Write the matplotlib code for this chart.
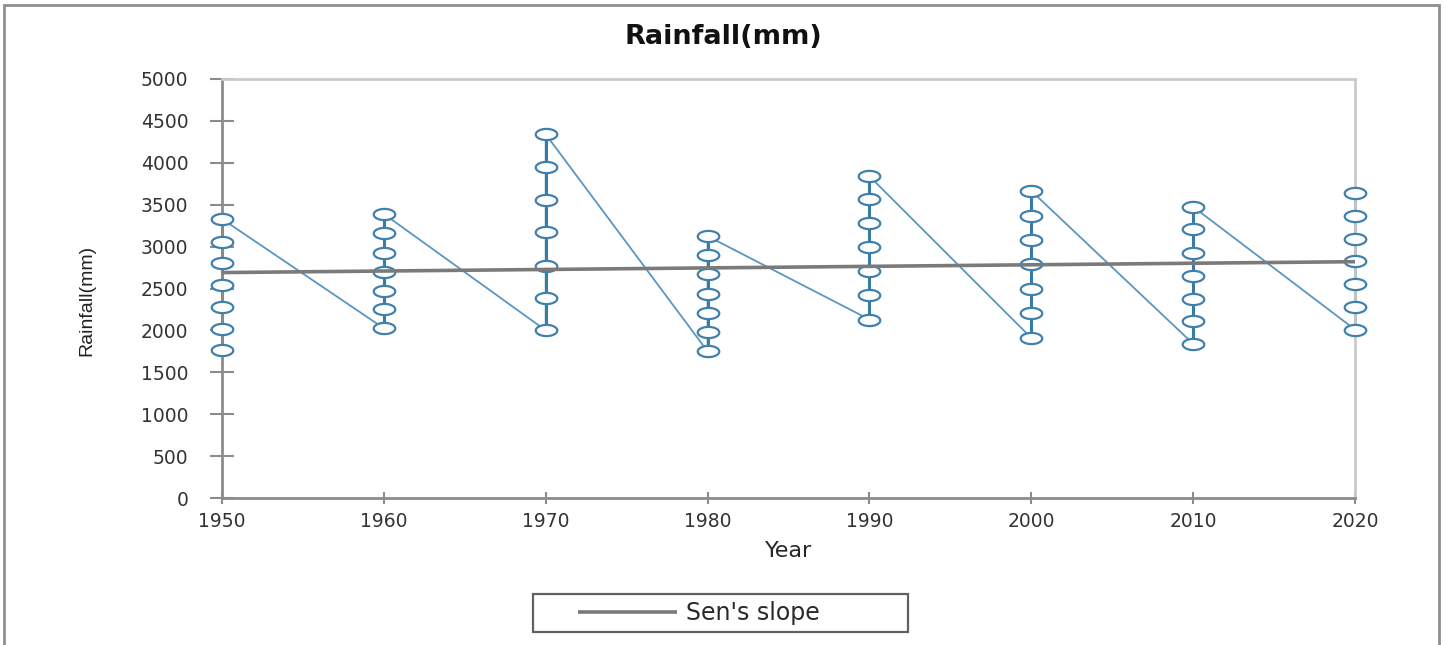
import matplotlib
matplotlib.use("Agg")
import matplotlib.pyplot as plt
from matplotlib.path import Path
from matplotlib.patches import Rectangle
from matplotlib.legend_handler import HandlerLine2D
import numpy as np

# ---- data ----
decades = [1950, 1960, 1970, 1980, 1990, 2000, 2010, 2020]
rain_1950 = [1770, 2020, 2280, 2540, 2800, 3060, 3330]
rain_1960 = [2025, 2250, 2475, 2700, 2925, 3165, 3390]
rain_1970 = [2000, 2390, 2770, 3170, 3560, 3955, 4340]
rain_1980 = [1750, 1975, 2205, 2440, 2675, 2895, 3125]
rain_1990 = [2130, 2420, 2705, 2990, 3280, 3565, 3840]
rain_2000 = [1910, 2205, 2500, 2790, 3080, 3365, 3665]
rain_2010 = [1840, 2110, 2380, 2655, 2925, 3205, 3475]
rain_2020 = [2010, 2285, 2555, 2825, 3095, 3365, 3635]
sen_years = [1950, 2020]
sen_values = [2690, 2820]
x_ticks = [1950, 1960, 1970, 1980, 1990, 2000, 2010, 2020]
y_ticks = [0, 500, 1000, 1500, 2000, 2500, 3000, 3500, 4000, 4500, 5000]

groups = [rain_1950, rain_1960, rain_1970, rain_1980,
          rain_1990, rain_2000, rain_2010, rain_2020]
xs = [d for d, g in zip(decades, groups) for _ in g]
ys = [v for g in groups for v in g]

W, H = 1446, 645
fig = plt.figure(figsize=(W / 100, H / 100), dpi=100)
ax = fig.add_axes([222 / W, 1 - 498 / H, (1355 - 222) / W, (498 - 79) / H])

# ellipse marker (wider than tall)
t = np.linspace(0, 2 * np.pi, 60)
ell = Path(np.column_stack([np.cos(t), 0.52 * np.sin(t)]), closed=True)

blue_line = "#5a96bf"
blue_edge = "#3f80ad"
ax.plot(xs, ys, color=blue_line, lw=1.3, clip_on=False, zorder=2)
# the within-decade segments appear heavier in the reference
for d, g in zip(decades, groups):
    ax.plot([d] * len(g), g, color="#3a7aa6", lw=2.2, clip_on=False, zorder=2)
ax.plot(xs, ys, linestyle="none", marker=ell, markersize=15.5,
        markerfacecolor="white", markeredgecolor=blue_edge,
        markeredgewidth=1.6, clip_on=False, zorder=3)

sen_line, = ax.plot(sen_years, sen_values, color="#7a7a7a", lw=2.6,
                    label="Sen's slope", zorder=4, solid_capstyle="butt")

ax.set_xlim(1950, 2020)
ax.set_ylim(0, 5000)
ax.set_xticks(x_ticks)
ax.set_yticks(y_ticks)

for side in ("left", "bottom"):
    ax.spines[side].set_color("#8c8c8c")
    ax.spines[side].set_linewidth(2)
for side in ("top", "right"):
    ax.spines[side].set_color("#cacaca")
    ax.spines[side].set_linewidth(2)

ax.tick_params(axis="y", direction="inout", length=17.5, width=1.5,
               color="#8c8c8c", pad=15.5, labelsize=13.5,
               labelcolor="#333333")
ax.tick_params(axis="x", direction="inout", length=8.6, width=1.5,
               color="#8c8c8c", pad=6, labelsize=13.5,
               labelcolor="#333333")
for lab in ax.get_xticklabels() + ax.get_yticklabels():
    lab.set_family("DejaVu Sans")

ax.set_xlabel("Year", fontsize=16, color="#262626", family="DejaVu Sans")
ax.xaxis.set_label_coords(0.5, (498 - 551) / 419)
ax.xaxis.label.set_va("center")

ax.set_ylabel("Rainfall(mm)", fontsize=14, color="#222222",
              family=["Liberation Sans Narrow", "Liberation Sans", "DejaVu Sans"])
ax.yaxis.set_label_coords((87 - 222) / 1133, (498 - 300) / 419)
ax.yaxis.label.set_va("center")

fig.suptitle("Rainfall(mm)", x=0.5, y=1 - 37 / H, va="center",
             fontsize=19.5, fontweight="bold", family="DejaVu Sans",
             color="#111111")

fs = 17
fs_px = fs * 100 / 72
leg = fig.legend(
    handles=[sen_line], loc="center",
    bbox_to_anchor=(533 / W, 1 - 634 / H, (908 - 533) / W, 42 / H),
    bbox_transform=fig.transFigure, mode="expand",
    prop={"family": "DejaVu Sans", "size": fs},
    handlelength=(677 - 540) / fs_px, handletextpad=0.38,
    borderpad=0.3, borderaxespad=0, fancybox=False, frameon=True,
    handler_map={sen_line: HandlerLine2D(xpad=38 / fs_px)},
)
leg.get_frame().set_edgecolor("#3a3a3a")
leg.get_frame().set_linewidth(1.6)
for txt in leg.get_texts():
    txt.set_color("#2a2a2a")

# outer chart border
fig.add_artist(Rectangle((4 / W, -0.05), (1439 - 4) / W, 1.05 - 5 / H,
                         transform=fig.transFigure, fill=False,
                         edgecolor="#8f8f8f", lw=2, clip_on=False))

fig.savefig("out.png", dpi=100)
